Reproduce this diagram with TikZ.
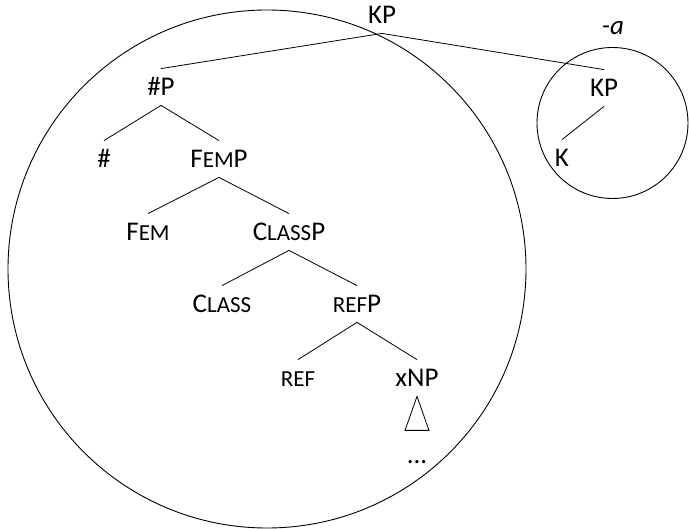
\documentclass[tikz,border=0pt]{standalone}
\usepackage{fontspec}
\setmainfont{Carlito}
\usetikzlibrary{positioning}
\definecolor{ink}{RGB}{0,0,0}
\newcommand{\smc}[1]{{\fontsize{23}{26}\selectfont #1}}
\tikzset{
  every picture/.style={color=ink, line width=0.8pt, font=\fontsize{27}{32}\selectfont},
  cat/.style={inner xsep=0pt, inner ysep=9.5pt, text height=17pt, text depth=0pt},
  branch/.style={line width=0.8pt},
  ring/.style={line width=0.9pt},
}

\begin{document}
\begin{tikzpicture}[x=1pt, y=1pt]
  \useasboundingbox (0,0) rectangle (689,-529);
  \draw[ring] (267,-269) circle (259);
  \draw[ring] (612.5,-123) circle (75.5);
  \node[cat] (KP) at (382,-15) {KP};
  \node[cat] (numP) at (161,-87) {\#P};
  \node[cat] (num) at (104,-159) {\#};
  \node[cat] (FemP) at (219,-159) {F\smc{EM}P};
  \node[cat] (Fem) at (148,-232) {F\smc{EM}};
  \node[cat] (ClassP) at (289,-232) {C\smc{LASS}P};
  \node[cat] (Class) at (222,-304) {C\smc{LASS}};
  \node[cat] (refP) at (357,-304) {\smc{REF}P};
  \node[cat] (ref) at (298,-378) {\smc{REF}};
  \node[cat] (xNP) at (417,-378) {xNP};
  \node[cat] (dots) at (417,-455) {...};
  \node[cat] (KPa) at (604,-88) {KP};
  \node[cat] (K) at (562,-158) {K};
  \node (suffix) at (613,-28) {\itshape -a};
  \draw[branch] (KP.south) -- (numP.north);
  \draw[branch] (KP.south) -- (KPa.north);
  \draw[branch] (numP.south) -- (num.north);
  \draw[branch] (numP.south) -- (FemP.north);
  \draw[branch] (FemP.south) -- (Fem.north);
  \draw[branch] (FemP.south) -- (ClassP.north);
  \draw[branch] (ClassP.south) -- (Class.north);
  \draw[branch] (ClassP.south) -- (refP.north);
  \draw[branch] (refP.south) -- (ref.north);
  \draw[branch] (refP.south) -- (xNP.north);
  \draw[branch] (xNP.south) -- ++(-12,-34) -- ++(24,0) -- cycle;
  \draw[branch] (KPa.south) -- (K.north);
\end{tikzpicture}
\end{document}
